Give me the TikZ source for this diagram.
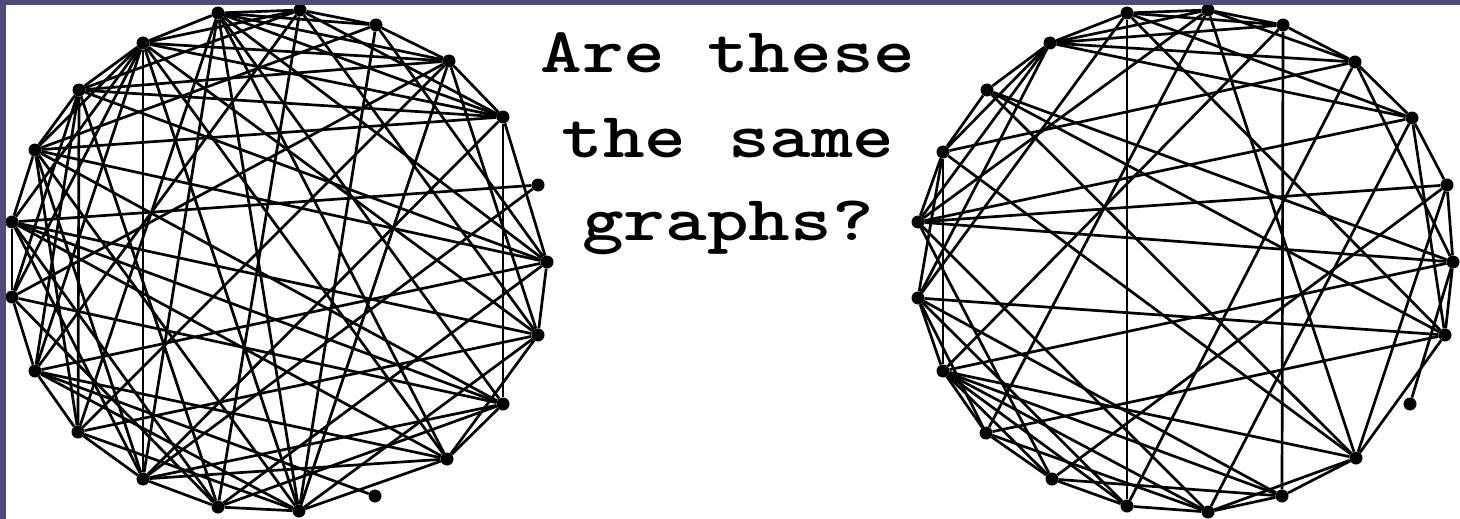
\documentclass[tikz,border=0pt]{standalone}
\usepackage{fontspec}
\definecolor{framecol}{RGB}{76,76,124}
\tikzset{
	dot/.style={circle, fill=black, inner sep=0pt, minimum size=13pt},
	link/.style={line width=2.7pt},
	question/.style={font=\ttfamily\bfseries\fontsize{64}{80}\selectfont, inner sep=0pt, anchor=base, xscale=1.24}
}
\begin{document}
\begin{tikzpicture}[x=1pt,y=-1pt]
	\useasboundingbox (0,0) rectangle (1460,519);
	\fill[white] (0,0) rectangle (1460,519);
	
	% left graph
	\foreach \i/\x/\y in {0/300/10, 1/376/25, 2/449/61, 3/503/117, 4/538/185, 5/547/262, 6/538/335,
		7/503/404, 8/447/459, 9/375/496, 10/299/511, 11/218/507, 12/143/479, 13/78/432,
		14/35/371, 15/12/297, 16/12/222, 17/35/150, 18/79/90, 19/143/43, 20/218/13}
		\node[dot] (l\i) at (\x,\y) {};
	\foreach \a/\b in {20/19, 20/0, 20/1, 20/2, 20/3, 20/5, 20/7, 20/8, 20/10, 20/12, 20/13,
		0/1, 0/3, 0/6, 0/11, 0/14, 0/18, 0/19, 1/2, 1/5, 1/10, 1/17,
		2/3, 2/6, 2/10, 2/13, 2/15, 2/18, 2/19, 3/5, 3/7, 3/12, 3/17, 3/18, 3/19, 4/12, 4/16,
		5/6, 5/11, 5/14, 5/17, 5/18, 6/8, 6/10, 6/13, 6/16, 6/19, 7/8, 7/11, 7/12, 7/15, 7/16, 7/17,
		8/10, 8/12, 8/14, 8/16, 8/19, 9/14, 10/11, 10/13, 10/14, 10/17, 10/19,
		11/12, 11/15, 11/16, 11/18, 12/13, 12/16, 12/17, 12/19, 13/14, 13/17, 13/18,
		14/15, 14/18, 14/19, 15/16, 15/18, 15/19, 16/17, 16/19, 17/18, 17/19, 18/19}
		\draw[link] (l\a) -- (l\b);
	
	% right graph
	\foreach \i/\x/\y in {0/1208/10, 1/1283/25, 2/1355/62, 3/1412/118, 4/1447/185, 5/1453/262, 6/1445/335,
		7/1410/404, 8/1356/458, 9/1282/496, 10/1208/512, 11/1127/506, 12/1052/479, 13/986/433,
		14/943/371, 15/918/298, 16/918/222, 17/943/152, 18/987/90, 19/1050/43, 20/1127/13}
		\node[dot] (r\i) at (\x,\y) {};
	\foreach \a/\b in {20/19, 20/0, 20/1, 20/11, 20/3, 20/6, 20/15,
		0/1, 0/19, 0/2, 0/8, 0/13, 0/16, 1/2, 1/9, 1/19, 1/14,
		2/3, 2/19, 2/17, 2/5, 2/11, 3/4, 3/19, 3/6, 3/10, 3/16,
		4/5, 4/16, 4/12, 4/8, 5/6, 5/7, 5/18, 5/14, 5/16, 6/8, 6/15, 6/13,
		8/9, 8/10, 8/14, 8/17, 8/18, 9/10, 9/12, 9/15, 9/14, 10/11, 10/13, 10/14, 10/16,
		11/12, 11/14, 11/15, 12/13, 12/14, 12/16, 13/14, 13/15, 6/18,
		14/17, 14/15, 15/17, 15/19, 16/17, 16/19, 17/18, 17/19, 18/19}
		\draw[link] (r\a) -- (r\b);
	
	\node[question] (q1) at (728,73) {Are these};
	\node[question] (q2) at (728,157) {the same};
	\node[question] (q3) at (728,240) {graphs?};
	
	% frame
	\fill[framecol] (0,0) rectangle (1460,5);
	\fill[framecol] (0,0) rectangle (6,519);
\end{tikzpicture}
\end{document}
